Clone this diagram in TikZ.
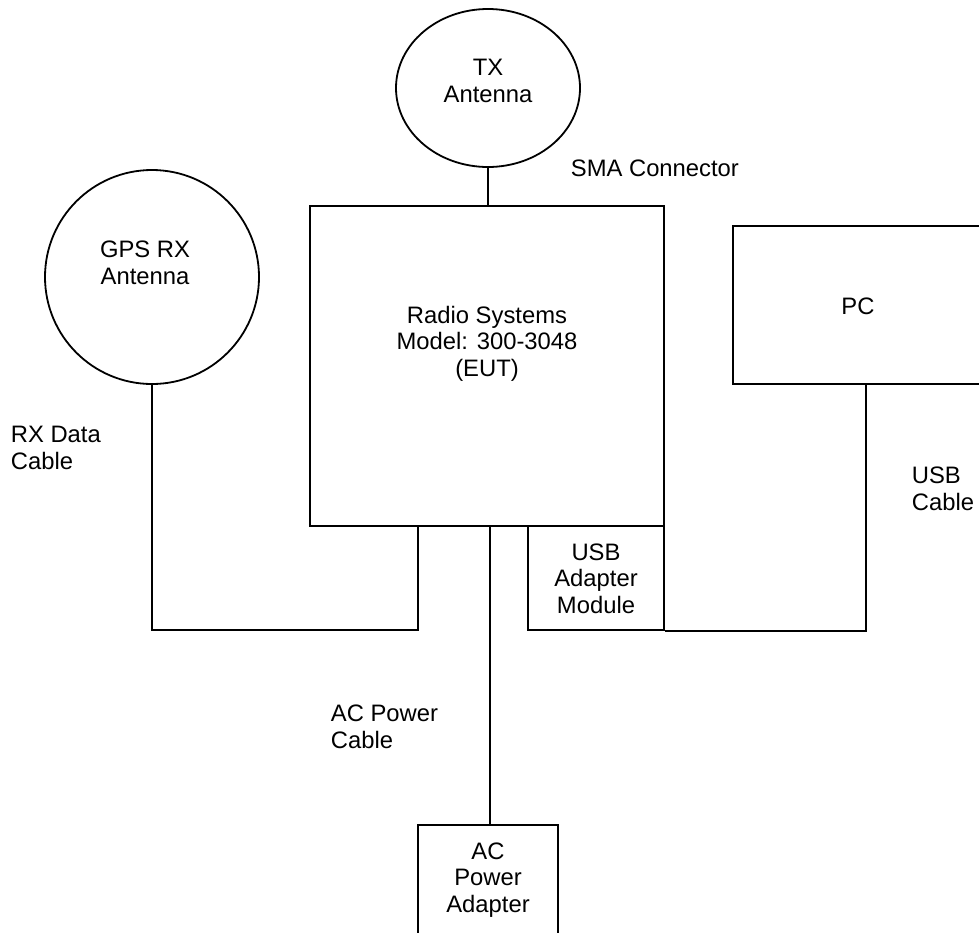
\documentclass[tikz,border=0pt]{standalone}
\usepackage{fontspec}
\setmainfont{Liberation Sans}
\usetikzlibrary{shapes.geometric}
\begin{document}
\begin{tikzpicture}[x=1pt,y=-1pt, line width=1.8pt,
  box/.style={draw, rectangle, inner sep=0pt},
  lbl/.style={font=\fontsize{23.8}{26.5}\selectfont, align=center, inner sep=0pt, anchor=base},
  lbll/.style={font=\fontsize{23.8}{26.5}\selectfont, align=left, inner sep=0pt, anchor=base west}]
\useasboundingbox (0,0) rectangle (979,932);
\clip (0,0) rectangle (979,932);
% shapes
\node[draw, ellipse, inner sep=0pt, minimum width=184pt, minimum height=158pt] (tx) at (488,88) {};
\node[draw, circle, inner sep=0pt, minimum size=214pt] (gps) at (152,277) {};
\node[box, minimum width=354pt, minimum height=320pt] (main) at (487,366) {};
\node[box, minimum width=136pt, minimum height=104pt] (usb) at (596,578) {};
\node[box, minimum width=280pt, minimum height=158pt] (pc) at (873,305) {};
\node[box, minimum width=140pt, minimum height=130pt] (ac) at (488,890) {};
% texts (anchored at the baseline of the last line)
\node[lbl] (txt) at (488,102) {TX\\Antenna};
\node[lbl] (gpst) at (145,284) {GPS RX\\Antenna};
\node[lbl] (maint) at (487,376) {Radio Systems\\Model: 300-3048\\(EUT)};
\node[lbl] (usbt) at (596,613) {USB\\Adapter\\Module};
\node[lbl] (pct) at (858,314) {PC};
\node[lbl] (act) at (488,912) {AC\\Power\\Adapter};
\node[lbll] (sma) at (570,176) {SMA Connector};
\node[lbll] (rxc) at (10,469) {RX Data\\Cable};
\node[lbll] (usbc) at (911,510) {USB\\Cable};
\node[lbll] (acc) at (330,748) {AC Power\\Cable};
% connectors
\coordinate (low) at (0,630);
\coordinate (rxport) at (418,526);
\coordinate (pcport) at (866,384);
\coordinate (pwr) at (490,526);
\draw (tx.south) -- (tx.south |- main.north);
\draw (gps.south) |- (rxport |- low) -- (rxport);
\draw (usb.south east) -| (pcport);
\draw (pwr) -- (pwr |- ac.north);
\end{tikzpicture}
\end{document}
